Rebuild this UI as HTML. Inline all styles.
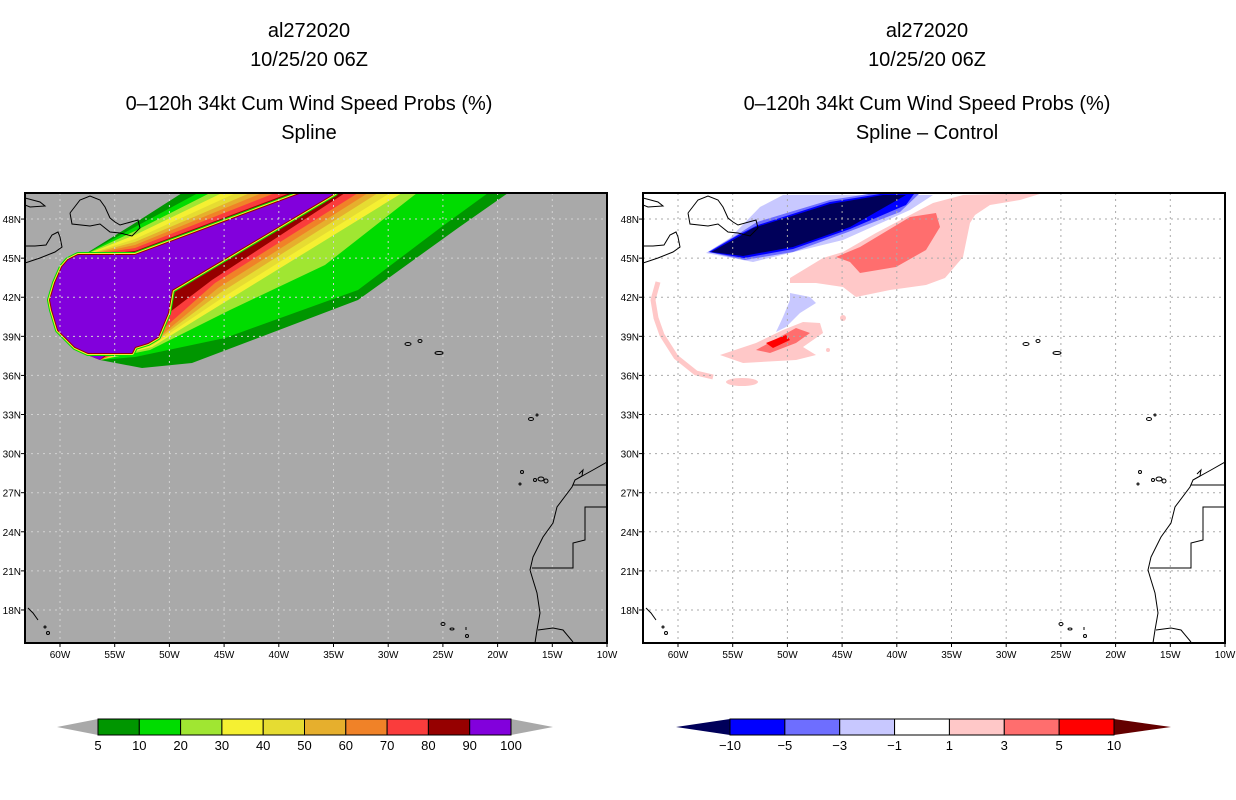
<!DOCTYPE html>
<html><head><meta charset="utf-8"><style>
body{margin:0;background:#fff;width:1236px;height:800px;overflow:hidden}
svg{display:block}
text{font-family:"Liberation Sans",sans-serif}
</style></head><body>
<svg id="root" width="1236" height="800" viewBox="0 0 1236 800">
<defs>
<clipPath id="clipL"><rect x="25" y="193" width="582" height="450"/></clipPath>
<clipPath id="clipR"><rect x="643" y="193" width="582" height="450"/></clipPath>
<g id="coast" fill="none" stroke="#000" stroke-width="1">
<polyline points="607,462 593,470 575,480 572,487 557,507 553,523 543,537 533,557 530,570 533,580 537,593 540,613 537,630 535,643"/>
<polyline points="573,485 607,485"/>
<polyline points="607,507 585,507 585,540 573,543 573,568 532,568"/>
<polyline points="538,630 553,628 563,630 573,642"/>
<polyline points="575,480 582,476 583,470 579,474"/>
<ellipse cx="541" cy="479" rx="3" ry="2"/><ellipse cx="546" cy="481" rx="2" ry="2"/><ellipse cx="535" cy="480" rx="1.5" ry="1.5"/><circle cx="522" cy="472" r="1.5"/><circle cx="520" cy="484" r="1"/>
<ellipse cx="531" cy="419" rx="2.5" ry="1.5"/><circle cx="537" cy="415" r="1"/>
<ellipse cx="408" cy="344" rx="3" ry="1.5"/><ellipse cx="420" cy="341" rx="2" ry="1.5"/><ellipse cx="439" cy="353" rx="4" ry="1.5"/>
<ellipse cx="443" cy="624" rx="2" ry="1.5"/><ellipse cx="452" cy="629" rx="2" ry="1"/><circle cx="467" cy="636" r="1.5"/><line x1="466" y1="627" x2="466" y2="630"/>
<polyline points="25,263 40,258 55,252 62,247 60,237 58,232 52,235 46,245 35,246 25,246"/>
<polyline points="70,213 80,200 90,196 100,200 105,207 110,218 115,222 120,225 138,220 140,228 132,236 120,233 110,232 100,224 90,226 72,224 70,213"/>
<polyline points="25,198 40,202 45,206 30,207 25,205"/>
<polyline points="28,608 33,613 38,620"/><circle cx="45" cy="627" r="1"/><circle cx="48" cy="633" r="1.5"/>
</g>
</defs>

<g font-size="20" text-anchor="middle" fill="#000">
<text x="309" y="37">al272020</text><text x="309" y="66">10/25/20 06Z</text>
<text x="309" y="110">0–120h 34kt Cum Wind Speed Probs (%)</text><text x="309" y="139">Spline</text>
</g>
<g font-size="20" text-anchor="middle" fill="#000">
<text x="927" y="37">al272020</text><text x="927" y="66">10/25/20 06Z</text>
<text x="927" y="110">0–120h 34kt Cum Wind Speed Probs (%)</text><text x="927" y="139">Spline – Control</text>
</g>

<g>
<rect x="25" y="193" width="582" height="450" fill="#a9a9a9"/>
<g id="swath" clip-path="url(#clipL)"></g>
<g id="gridL" clip-path="url(#clipL)"></g>
<use href="#coast" clip-path="url(#clipL)"/>
<rect x="25" y="193" width="582" height="450" fill="none" stroke="#000" stroke-width="2"/>
<g id="ticksL"></g>
</g>

<g>
<rect x="643" y="193" width="582" height="450" fill="#fff"/>
<g clip-path="url(#clipR)">
<polygon fill="#c8c8ff" points="706,253 730,238 760,207 783,195 933,195 910,210 843,240 753,262"/>
<polygon fill="#6e6eff" points="708,252 735,236 757,222 830,200 875,193 920,193 900,212 848,232 793,252 745,260"/>
<polygon fill="#0000ff" points="709,252 740,234 758,225 830,202 880,194 914,194 906,205 850,229 793,249 744,258"/>
<polygon fill="#00005a" points="711,252 740,236 753,228 830,204 883,195 906,195 850,227 793,247 743,256"/>
<polygon fill="#ffc8c8" points="790,278 823,258 843,252 876,233 933,203 963,195 1043,193 1020,200 990,205 975,215 970,223 963,257 945,278 926,285 890,290 856,297 843,287 816,283 790,283"/>
<polygon fill="#ff6e6e" points="836,257 860,247 910,217 936,213 940,227 926,250 896,267 860,273 850,262"/>
<polygon fill="#c8c8ff" points="790,293 810,297 816,303 800,313 786,327 776,332 783,317 790,300"/>
<polygon fill="#ffc8c8" points="720,355 756,343 783,330 803,322 820,323 823,333 803,347 816,355 796,360 743,363"/>
<polygon fill="#ff6e6e" points="756,350 796,328 810,333 796,343 770,353"/>
<polygon fill="#ff0000" points="766,343 786,335 790,340 773,348"/>
<polyline fill="none" stroke="#ffc8c8" stroke-width="5" stroke-linejoin="round" points="658,282 653,300 656,318 662,335 676,357 696,373 713,377"/>
<ellipse cx="742" cy="382" rx="16" ry="4" fill="#ffc8c8"/>
<circle cx="843" cy="318" r="3" fill="#ffc8c8"/><circle cx="828" cy="350" r="2" fill="#ffc8c8"/>
</g>
<g id="gridR" clip-path="url(#clipR)"></g>
<use href="#coast" transform="translate(618,0)" clip-path="url(#clipL)"/>
<rect x="643" y="193" width="582" height="450" fill="none" stroke="#000" stroke-width="2"/>
<g id="ticksR"></g>
</g>

<g id="cbarL"></g>
<g id="cbarR"></g>
</svg>
<script>
const NS='http://www.w3.org/2000/svg';
const lonTicks=[-60,-55,-50,-45,-40,-35,-30,-25,-20,-15,-10];
const latTicks=[18,21,24,27,30,33,36,39,42,45,48];
const probLevels=['5','10','20','30','40','50','60','70','80','90','100'];
const probColors=['#009600','#00dc00','#a0e632','#f5f032','#e6dc32','#e6af2d','#f08228','#fa3c3c','#960000','#8200dc'];
const diffLevels=['−10','−5','−3','−1','1','3','5','10'];
const diffColors=['#0000ff','#6e6eff','#c8c8ff','#ffffff','#ffc8c8','#ff6e6e','#ff0000'];
const upperTopX=[182,198,210,222,236,250,262,275,290,302];
const upperMidY=[223,227,231,235,239,242,245,248,251,255];
const lowerTopX=[508,488,417,402,390,378,368,358,345,335];

function el(t,a,p){const e=document.createElementNS(NS,t);for(const k in a)e.setAttribute(k,a[k]);p.appendChild(e);return e;}
function xs(lon,x0){return x0+35+(lon+60)*10.94;}
function ys(lat){return 193+(50-lat)*13.03;}

const sw=document.getElementById('swath');
const lowerPaths=[
 [[142,368],[192,363],[258,338],[358,300],[458,228]],
 [[135,357],[225,338],[358,290],[440,228]],
 [[150,350],[230,310],[325,265]],
 [[152,347],[225,302]],
 [[154,344],[222,298]],
 [[156,341],[220,293]],
 [[158,338],[218,288]],
 [[162,330],[215,283]],
 [[166,315],[212,280]],
 [[172,290]]];
for(let i=0;i<upperTopX.length;i++){
  const pts=[[upperTopX[i],193],[135,upperMidY[i]],[82,256],[50,300],[75,350],[100,360]].concat(lowerPaths[i]).concat([[lowerTopX[i],193]]);
  const p=el('polygon',{points:pts.map(q=>q.join(',')).join(' '),fill:probColors[i]},sw);
  
  
}
const blobPts='78,255 135,255 302,193 335,193 172,290 168,313 158,337 148,343 135,347 132,353 88,353 75,347 58,330 52,310 50,300 55,283 62,267 68,260';
el('polygon',{points:blobPts,fill:'none',stroke:'#00dc00','stroke-width':6,'stroke-linejoin':'round'},sw);
el('polygon',{points:blobPts,fill:'none',stroke:'#f5f032','stroke-width':4,'stroke-linejoin':'round'},sw);
el('polygon',{points:blobPts,fill:'none',stroke:'#960000','stroke-width':2,'stroke-linejoin':'round'},sw);
const blob=el('polygon',{points:blobPts,fill:'#8200dc'},sw);



function grid(id,x0,col){
  const g=document.getElementById(id);
  lonTicks.forEach(l=>{const x=xs(l,x0);el('line',{x1:x,y1:193,x2:x,y2:643,stroke:col,'stroke-dasharray':'2,4'},g);});
  latTicks.forEach(l=>{const y=ys(l);el('line',{x1:x0,y1:y,x2:x0+582,y2:y,stroke:col,'stroke-dasharray':'2,4'},g);});
}
grid('gridL',25,'#d2d2d2');grid('gridR',643,'#aaaaaa');

function ticks(id,x0){
  const g=document.getElementById(id);
  lonTicks.forEach(l=>{const x=xs(l,x0);el('line',{x1:x,y1:643,x2:x,y2:647,stroke:'#000'},g);
    const t=el('text',{x:x,y:658,'font-size':10,'text-anchor':'middle'},g);t.textContent=(-l)+'W';
    
    });
  latTicks.forEach(l=>{const y=ys(l);el('line',{x1:x0-4,y1:y,x2:x0,y2:y,stroke:'#000'},g);
    const t=el('text',{x:x0-4,y:y+4,'font-size':10,'text-anchor':'end'},g);t.textContent=l+'N';
    
    });
}
ticks('ticksL',25);ticks('ticksR',643);

function cbar(id,x0,x1,tip0,tip1,colors,labels,lc,rc){
  const g=document.getElementById(id);const y0=719,y1=735,w=(x1-x0)/colors.length;
  el('polygon',{points:`${tip0},727 ${x0},${y0} ${x0},${y1}`,fill:lc},g);
  el('polygon',{points:`${tip1},727 ${x1},${y0} ${x1},${y1}`,fill:rc},g);
  colors.forEach((c,i)=>{const r=el('rect',{x:x0+i*w,y:y0,width:w,height:y1-y0,fill:c,stroke:'#000','stroke-width':1},g);
    
    });
  labels.forEach((s,i)=>{const t=el('text',{x:x0+i*w,y:750,'font-size':13,'text-anchor':'middle'},g);t.textContent=s;
    
    });
}
cbar('cbarL',98,511,57,553,probColors,probLevels,'#a9a9a9','#a9a9a9');
cbar('cbarR',730,1114,676,1171,diffColors,diffLevels,'#00005a','#640000');
</script>
</body></html>
